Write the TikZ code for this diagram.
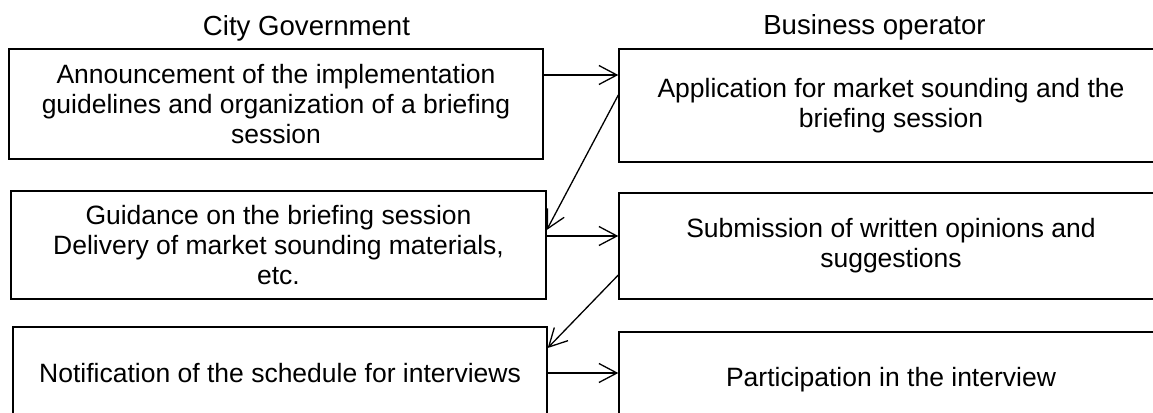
\documentclass[tikz,border=0pt]{standalone}
\usepackage{fontspec}
\setmainfont{Liberation Sans}
\usetikzlibrary{arrows.meta}
\begin{document}
\begin{tikzpicture}[x=1pt,y=-1pt,
  txt/.style={font=\fontsize{26.5}{29.8}\selectfont},
  box/.style={txt, draw, line width=1.4pt, align=center, inner sep=0pt},
  head/.style={font=\fontsize{27.6}{30}\selectfont, anchor=base, inner sep=0pt},
  arr/.style={line width=1.3pt, -{Straight Barb[length=18pt,width=19pt]}}]
\useasboundingbox (0,0) rectangle (1153,412);
\fill[white] (0,0) rectangle (1153,412);
\clip (0,0) rectangle (1153,412);
% headers
\node[head] (hL) at (306.5,36) {City Government};
\node[head] (hR) at (874.5,35) {Business operator};
% left column
\node[box, minimum width=534pt, minimum height=110pt] (L1) at (276,104)
  {Announcement of the implementation\\guidelines and organization of a briefing\\session};
\node[box, minimum width=535pt, minimum height=108pt] (L2) at (278.5,245)
  {Guidance on the briefing session\\Delivery of market sounding materials,\\etc.};
\node[box, minimum width=534pt, minimum height=92pt] (L3) at (280,373)
  {Notification of the schedule for interviews};
% right column
\node[box, minimum width=544pt, minimum height=113pt] (R1) at (891,105.5)
  {Application for market sounding and the\\briefing session};
\node[box, minimum width=544pt, minimum height=106pt] (R2) at (891,246)
  {Submission of written opinions and\\suggestions};
\node[box, minimum width=544pt, minimum height=96pt] (R3) at (891,380)
  {Participation in the interview};
% connectors
\draw[arr] (L1.east |- 0,75) -- (R1.west |- 0,75);
\draw[arr] (R1.west |- 0,95) -- (L2.east |- 0,230);
\draw[arr] (L2.east |- 0,236) -- (R2.west |- 0,236);
\draw[arr] (R2.west |- 0,275) -- (L3.east |- 0,348);
\draw[arr] (L3.east |- 0,373) -- (R3.west |- 0,373);
\end{tikzpicture}
\end{document}
